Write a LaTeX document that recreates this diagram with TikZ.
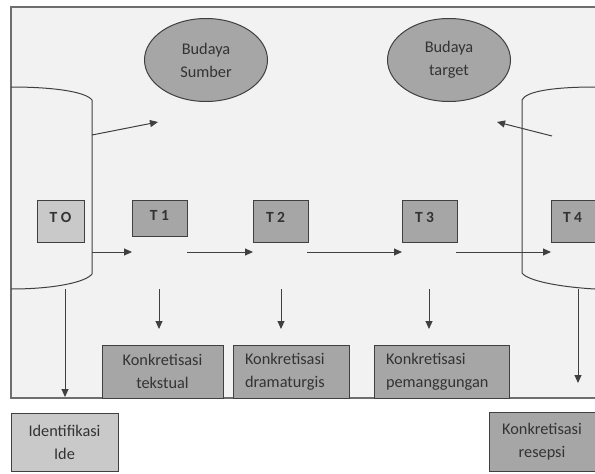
\documentclass[tikz,border=0pt]{standalone}
\usepackage{fontspec}
\setmainfont{Carlito}
\usetikzlibrary{shapes.geometric,arrows.meta}
\definecolor{bg}{HTML}{F2F2F2}
\definecolor{midg}{HTML}{A6A6A6}
\definecolor{lightg}{HTML}{C9C9C9}
\definecolor{edgec}{HTML}{404040}
\definecolor{txt}{HTML}{333333}
\definecolor{framec}{HTML}{6E6E6E}
\begin{document}
\begin{tikzpicture}[x=1pt,y=-1pt,
  font=\fontsize{16.3}{23}\selectfont, text=txt,
  box/.style={draw=edgec, line width=1pt, rectangle, inner sep=0pt, fill=midg},
  tbox/.style={box, minimum height=42pt, minimum width=55pt, text height=10pt, text depth=8pt,
               font=\fontsize{15.5}{18}\selectfont\bfseries},
  kbox/.style={box, minimum height=53pt, align=left, inner xsep=12pt},
  cbox/.style={box, minimum height=58pt, align=center},
  oval/.style={ellipse, draw=edgec, line width=1pt, fill=midg, minimum width=123pt,
               minimum height=83pt, inner sep=0pt, align=center},
  cyl/.style={draw=edgec, line width=1pt},
  arr/.style={draw=edgec, line width=1pt, -{Triangle[length=8pt,width=7pt]}}]
\useasboundingbox (0,0) rectangle (595,474);
\clip (0,0) rectangle (595,474);
% frame
\draw[draw=framec, line width=1.2pt, fill=bg] (11,7) rectangle (605,398);
% cylinders
\draw[cyl] (11,87) .. controls (55,87) and (86,92) .. (92,100) -- (92,274)
  .. controls (86,282) and (55,289) .. (11,289);
\draw[cyl] (595,87) .. controls (555,87) and (526,91) .. (522,100) -- (522,273)
  .. controls (528,281) and (560,287) .. (595,289);
% ellipses
\node[oval] (bs) at (206,60) {Budaya\\Sumber};
\node[oval] (bt) at (449,60) {Budaya\\target};
% T boxes
\node[tbox, fill=lightg, minimum width=47pt] (t0) at (60.5,221) {T O};
\node[tbox, minimum height=36pt, text height=10pt, text depth=6pt] (t1) at (159.5,218) {T 1};
\node[tbox] (t2) at (280.5,221) {\makebox[29pt][l]{T 2}};
\node[tbox] (t3) at (429.5,221) {\makebox[29pt][l]{T 3}};
\node[tbox] (t4) at (578.5,221) {\makebox[31pt][l]{T 4}};
% bottom boxes in frame
\node[box, minimum width=121pt, minimum height=53pt, align=center] (k1) at (162.5,371.5) {Konkretisasi\\tekstual};
\node[kbox, text width=92pt] (k2) at (291,371.5) {Konkretisasi\\dramaturgis};
\node[kbox, text width=111pt] (k3) at (441.5,371.5) {Konkretisasi\\pemanggungan};
% outside boxes
\node[cbox, fill=lightg, minimum width=107pt] (ide) at (64.5,442) {Identifikasi\\Ide};
\node[cbox, minimum width=106pt, minimum height=59pt] (res) at (542,441.5) {Konkretisasi\\resepsi};
% arrow coordinates
\coordinate (d1s) at (92,135); \coordinate (d1e) at (158,122);
\coordinate (d2s) at (552,136); \coordinate (d2e) at (497,122);
\coordinate (h1s) at (92,252); \coordinate (h1e) at (132,252);
\coordinate (h2s) at (187,252); \coordinate (h2e) at (253,252);
\coordinate (h3s) at (307,252); \coordinate (h3e) at (402,252);
\coordinate (h4s) at (456,252); \coordinate (h4e) at (551,252);
\coordinate (v1s) at (159,289); \coordinate (v1e) at (159,329);
\coordinate (v2s) at (281,289); \coordinate (v2e) at (281,329);
\coordinate (v3s) at (429,289); \coordinate (v3e) at (429,329);
\coordinate (l1s) at (65,289); \coordinate (l1e) at (65,397);
\coordinate (r1s) at (578,289); \coordinate (r1e) at (578,383);
% arrows
\draw[arr] (d1s) -- (d1e);
\draw[arr] (d2s) -- (d2e);
\draw[arr] (h1s) -- (h1e);
\draw[arr] (h2s) -- (h2e);
\draw[arr] (h3s) -- (h3e);
\draw[arr] (h4s) -- (h4e);
\draw[arr] (v1s) -- (v1e);
\draw[arr] (v2s) -- (v2e);
\draw[arr] (v3s) -- (v3e);
\draw[arr] (l1s) -- (l1e);
\draw[arr] (r1s) -- (r1e);
\end{tikzpicture}
\end{document}
